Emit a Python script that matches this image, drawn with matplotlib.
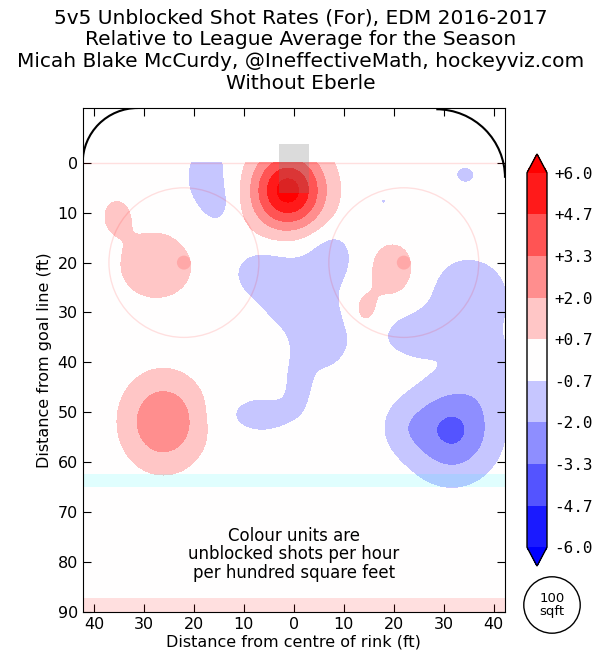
import numpy as np
import matplotlib
matplotlib.use("Agg")
import matplotlib.pyplot as plt
from matplotlib.patches import Arc, Circle, Rectangle
from matplotlib.ticker import FuncFormatter

# colour levels (unblocked shots / hour / 100 sqft, relative to league)
levels = [-6.0, -4.7, -3.3, -2.0, -0.7, 0.7, 2.0, 3.3, 4.7, 6.0]

# smooth hot/cold spots: centre (ft), peak, spread (ft)
spot_x   = [-1.2, -17.0, -15.0, -27.5, -35.5, -26.1, 19.8, 14.2, 34.3, 17.9,
            7.5, 0.5, -7.0, 6.0, 1.0, -6.5,
            35.0, 24.0, 40.0, 31.6, 22.0]
spot_y   = [5.6, 3.0, 8.5, 20.5, 10.5, 51.9, 21.5, 29.5, 2.4, 7.7,
            18.5, 25.0, 22.0, 35.5, 44.0, 50.5,
            27.0, 34.5, 42.0, 53.7, 53.0]
spot_amp = [6.6, -1.15, -0.5, 1.4, 1.0, 3.25, 1.5, 1.1, -0.95, -0.75,
            -1.1, -1.35, -1.0, -1.3, -1.1, -1.2,
            -1.4, -1.2, -1.0, -3.6, -0.8]
spot_sx  = [5.0, 4.2, 2.0, 6.0, 2.4, 5.3, 3.5, 2.2, 2.2, 1.3,
            3.0, 6.5, 3.5, 3.8, 2.2, 5.5,
            6.5, 5.0, 4.5, 6.0, 3.5]
spot_sy  = [5.5, 6.8, 2.5, 5.5, 3.0, 6.1, 4.2, 3.0, 1.9, 1.3,
            3.5, 7.0, 3.0, 4.5, 4.0, 3.0,
            6.5, 3.5, 5.0, 6.4, 4.0]

title = ("5v5 Unblocked Shot Rates (For), EDM 2016-2017\n"
         "Relative to League Average for the Season\n"
         "Micah Blake McCurdy, @IneffectiveMath, hockeyviz.com\n"
         "Without Eberle")

xs = np.arange(-42.5, 42.51, 0.25)
ys = np.arange(0.0, 90.01, 0.25)
X, Y = np.meshgrid(xs, ys)
Z = np.zeros_like(X)
for x0, y0, a, sx, sy in zip(spot_x, spot_y, spot_amp, spot_sx, spot_sy):
    Z += a * np.exp(-((X - x0) ** 2 / (2 * sx ** 2) + (Y - y0) ** 2 / (2 * sy ** 2)))

fig = plt.figure(figsize=(6.02, 6.63), dpi=100)
ax = fig.add_axes([82.7 / 602, 1 - 611.7 / 663, 422.3 / 602, 503.7 / 663])

cf = ax.contourf(X, Y, Z, levels=levels, cmap="bwr", vmin=-6, vmax=6,
                 extend="both", zorder=1)

# rink markings
ax.axhspan(62.3, 65.0, color="cyan", alpha=0.12, lw=0, zorder=2)
ax.axhspan(87.3, 90.0, color="red", alpha=0.12, lw=0, zorder=2)
ax.axhline(0, color="red", alpha=0.12, lw=1, zorder=2)
for cx in (-22, 22):
    ax.add_patch(Circle((cx, 20), 15, fill=False, ec="red", alpha=0.12, lw=1, zorder=2))
    ax.add_patch(Circle((cx, 20), 1.4, fc="red", ec="none", alpha=0.15, zorder=2))
ax.add_patch(Rectangle((-3, -3.7), 6, 9.7, fc="gray", ec="none", alpha=0.28, zorder=3))
ax.add_patch(Arc((-31.25, 0.0), 22.0, 22.0, theta1=180, theta2=270, color="k", lw=1.5, zorder=4))
ax.add_patch(Arc((28.5, 3.0), 27.5, 27.5, theta1=270, theta2=360, color="k", lw=1.5, zorder=4))

ax.text(0, 78.5, "Colour units are\nunblocked shots per hour\nper hundred square feet",
        ha="center", va="center", fontsize=12, linespacing=1.02, zorder=5)

ax.set_xlim(-42.25, 42.25)
ax.set_ylim(90, -11)
ax.set_xticks(range(-40, 41, 10))
ax.set_yticks(range(0, 91, 10))
ax.xaxis.set_major_formatter(FuncFormatter(lambda v, p: f"{abs(v):.0f}"))
ax.tick_params(direction="in", top=True, right=True, length=6, labelsize=11.5)
ax.set_xlabel("Distance from centre of rink (ft)", fontsize=11.5, labelpad=2)
ax.set_ylabel("Distance from goal line (ft)", fontsize=11.5, labelpad=4)
fig.suptitle(title, fontsize=14.5, y=1 - 8 / 663, va="top", linespacing=1.2)

# colour bar
cax = fig.add_axes([527 / 602, 1 - 566 / 663, 20 / 602, 412 / 663])
cb = fig.colorbar(cf, cax=cax, ticks=levels, format="%+.1f")
cb.outline.set_linewidth(1)
cax.tick_params(length=0, pad=5, labelsize=11.5)
for t in cax.get_yticklabels():
    t.set_family("DejaVu Sans Mono")

# 100 sq ft reference circle, same scale as the rink
kax = fig.add_axes([517 / 602, 23 / 663, 70 / 602, 70 / 663])
kax.set_xlim(-7, 7)
kax.set_ylim(-7, 7)
kax.axis("off")
kax.add_patch(Circle((0, 0), np.sqrt(100 / np.pi), fill=False, ec="k", lw=1))
kax.text(0, 0, "100\nsqft", ha="center", va="center", fontsize=9.5, linespacing=1.0)

fig.savefig("out.png", dpi=100)
